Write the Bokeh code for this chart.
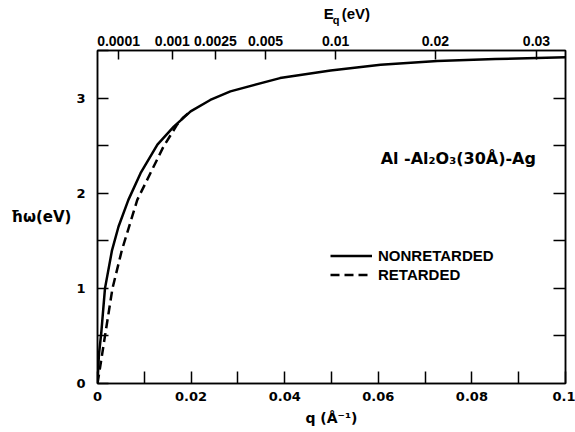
from bokeh.plotting import figure
from bokeh.layouts import column
from bokeh.models import (LinearAxis, FixedTicker, Range1d, Label, Legend, LegendItem,
                          CustomLabelingPolicy)
from bokeh.core.properties import value
from bokeh.embed import file_html
from bokeh.resources import INLINE

# Surface-plasmon dispersion of an Al-Al2O3(30 Å)-Ag junction
# q in 1/Å, energy hbar*omega in eV
q_nonret = [0.0, 0.0003, 0.0008, 0.0016, 0.0031, 0.0045, 0.0066, 0.0092, 0.0128,
            0.0163, 0.0199, 0.0241, 0.0284, 0.039, 0.0498, 0.0605, 0.0726, 0.085, 0.1]
e_nonret = [0.0, 0.3, 0.53, 1.0, 1.4, 1.65, 1.93, 2.21, 2.51,
            2.70, 2.86, 2.98, 3.07, 3.21, 3.29, 3.35, 3.39, 3.41, 3.43]

q_ret = [0.0, 0.0004, 0.0016, 0.0032, 0.0052, 0.0085, 0.0113, 0.0141, 0.017, 0.0184, 0.0199]
e_ret = [0.0, 0.12, 0.5, 1.0, 1.4, 1.93, 2.21, 2.49, 2.72, 2.80, 2.86]

# bottom axis (q)
x_major = [0.0, 0.02, 0.04, 0.06, 0.08, 0.1]
x_minor = [0.01, 0.03, 0.05, 0.07, 0.09]
x_labels = ["0", "0.02", "0.04", "0.06", "0.08", "0.1"]

# left / right axes (energy)
y_major = [0, 1, 2, 3]
y_minor = [0.5, 1.5, 2.5, 3.5]
y_right = [0.5, 1.0, 1.5, 2.0, 2.5, 3.0]

# top axis: E_q values placed at their q positions
eq_q = [0.0045, 0.016, 0.0252, 0.0359, 0.0509, 0.0722, 0.0938]
eq_labels = ["0.0001", "0.001", "0.0025", "0.005", "0.01", "0.02", "0.03"]

DIGIT_FONT = "DejaVu Sans"
TEXT_FONT = "Liberation Sans"

# ---- strip above the plot carrying the top-axis title E_q (eV) ----
head = figure(width=575, height=30, output_backend="svg", toolbar_location=None,
              x_range=Range1d(0, 575), y_range=Range1d(0, 30),
              x_axis_location=None, y_axis_location=None, min_border=0)
head.xgrid.visible = False
head.ygrid.visible = False
head.outline_line_color = None
head.background_fill_color = "white"
head.border_fill_color = "white"
head_font = dict(text_color="black", text_font=value(TEXT_FONT), text_font_style="bold",
                 text_baseline="middle", text_align="left")
head.text(x=[278], y=[17], text=["E"], text_font_size="15px", **head_font)
head.text(x=[289], y=[11], text=["q"], text_font_size="11px", **head_font)
head.text(x=[300], y=[17], text=["(eV)"], text_font_size="15px", **head_font)

# ---- main plot ----
p = figure(width=575, height=402, output_backend="svg", toolbar_location=None,
           x_range=Range1d(0, 0.1), y_range=Range1d(0, 3.5),
           min_border_left=97, min_border_right=10,
           min_border_top=20, min_border_bottom=49)
p.xgrid.visible = False
p.ygrid.visible = False
p.outline_line_color = "black"
p.outline_line_width = 1.5
p.background_fill_color = "white"
p.border_fill_color = "white"


def style_axis(ax, tick_len):
    ax.axis_line_color = "black"
    ax.axis_line_width = 1.5
    ax.major_tick_line_color = "black"
    ax.major_tick_line_width = 1.5
    ax.minor_tick_line_color = "black"
    ax.minor_tick_line_width = 1.5
    ax.major_tick_in = tick_len
    ax.major_tick_out = 0
    ax.minor_tick_in = tick_len
    ax.minor_tick_out = 0
    ax.major_label_text_color = "black"
    ax.major_label_text_font_style = "bold"
    ax.axis_label_text_color = "black"
    ax.axis_label_text_font_style = "bold"


xb = p.xaxis[0]
xb.ticker = FixedTicker(ticks=x_major, minor_ticks=x_minor)
xb.major_label_overrides = dict(zip(x_major, x_labels))
style_axis(xb, 12)
xb.major_label_text_font = DIGIT_FONT
xb.major_label_text_font_size = "13px"
xb.major_label_standoff = 8
xb.axis_label = "q (Å⁻¹)"
xb.axis_label_text_font = DIGIT_FONT
xb.axis_label_text_font_size = "14px"
xb.axis_label_standoff = 6

yl = p.yaxis[0]
yl.ticker = FixedTicker(ticks=y_major, minor_ticks=y_minor)
style_axis(yl, 11)
yl.major_label_text_font = DIGIT_FONT
yl.major_label_text_font_size = "13px"
yl.major_label_standoff = 12
yl.axis_label = "ħω(eV)"
yl.axis_label_orientation = "horizontal"
yl.axis_label_text_font = DIGIT_FONT
yl.axis_label_text_font_size = "15px"
yl.axis_label_standoff = 2

# right axis: ticks only
yr = LinearAxis(ticker=FixedTicker(ticks=y_right))
style_axis(yr, 12)
yr.major_label_policy = CustomLabelingPolicy(
    code="for (const i of Array.from(indices)) indices.unset(i); return indices")
yr.major_label_text_font_size = "0px"
yr.major_label_standoff = 0
p.add_layout(yr, "right")

xt = LinearAxis(ticker=FixedTicker(ticks=eq_q))
xt.major_label_overrides = dict(zip(eq_q, eq_labels))
style_axis(xt, 9)
xt.major_label_text_font = TEXT_FONT
xt.major_label_text_font_size = "14px"
xt.major_label_standoff = 5
p.add_layout(xt, "above")

r_non = p.line(q_nonret, e_nonret, line_color="black", line_width=2.5)
r_ret = p.line(q_ret, e_ret, line_color="black", line_width=2.5, line_dash="9 5")

legend = Legend(items=[LegendItem(label="NONRETARDED", renderers=[r_non]),
                       LegendItem(label="RETARDED", renderers=[r_ret])],
                location=(233, 99), glyph_width=42, glyph_height=19,
                label_height=19, spacing=0, padding=0, margin=0,
                label_standoff=6, border_line_color=None,
                background_fill_alpha=0,
                label_text_font=TEXT_FONT, label_text_font_size="15px",
                label_text_font_style="bold", label_text_color="black")
p.add_layout(legend)

# sample label inside the plot
p.add_layout(Label(x=0.0605, y=2.37, text="Al -Al₂O₃(30Å)-Ag",
                   text_font=DIGIT_FONT, text_font_size="16px", text_font_style="bold",
                   text_color="black", text_baseline="middle", text_align="left"))

layout = column(head, p, spacing=0)
open("out.html", "w").write(file_html(layout, INLINE))
